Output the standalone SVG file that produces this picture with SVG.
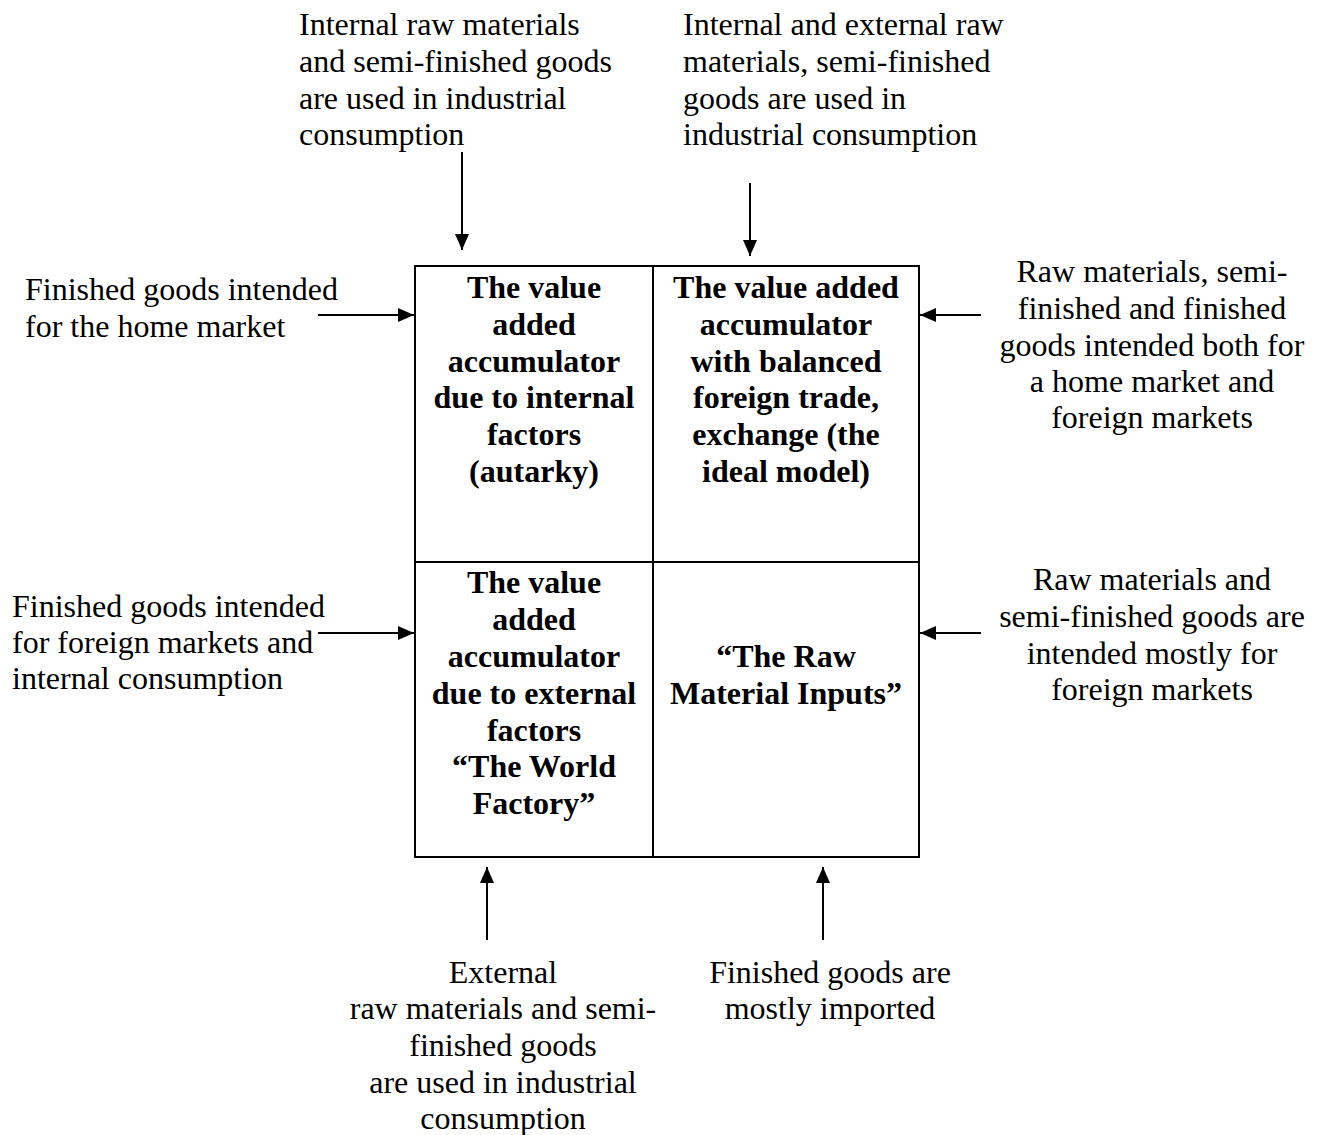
<svg xmlns="http://www.w3.org/2000/svg" width="1321" height="1135" viewBox="0 0 1321 1135">
<style>
text{font-family:"Liberation Serif","Times New Roman",serif;font-size:32px;fill:#000}
.b{font-weight:bold;text-anchor:middle}
.c{text-anchor:middle}
.box{fill:none;stroke:#000;stroke-width:2}
</style>
<defs>
<marker id="ah2" viewBox="0 0 16 14" refX="16" refY="7" markerWidth="16" markerHeight="14" markerUnits="userSpaceOnUse" orient="auto">
<path d="M0,0 L16,7 L0,14 z" fill="#000"/>
</marker>
</defs>
<g id="matrix">
<rect class="box" x="415" y="266" width="504" height="591"/>
<line class="box" x1="653" y1="266" x2="653" y2="857"/>
<line class="box" x1="415" y1="562" x2="919" y2="562"/>
</g>
<g id="cell-tl">
<text class="b" x="534" y="298">The value</text>
<text class="b" x="534" y="335">added</text>
<text class="b" x="534" y="372">accumulator</text>
<text class="b" x="534" y="408">due to internal</text>
<text class="b" x="534" y="445">factors</text>
<text class="b" x="534" y="482">(autarky)</text>
</g>
<g id="cell-tr">
<text class="b" x="786" y="298">The value added</text>
<text class="b" x="786" y="335">accumulator</text>
<text class="b" x="786" y="372">with balanced</text>
<text class="b" x="786" y="408">foreign trade,</text>
<text class="b" x="786" y="445">exchange (the</text>
<text class="b" x="786" y="482">ideal model)</text>
</g>
<g id="cell-bl">
<text class="b" x="534" y="593">The value</text>
<text class="b" x="534" y="630">added</text>
<text class="b" x="534" y="667">accumulator</text>
<text class="b" x="534" y="704">due to external</text>
<text class="b" x="534" y="741">factors</text>
<text class="b" x="534" y="777">“The World</text>
<text class="b" x="534" y="814">Factory”</text>
</g>
<g id="cell-br">
<text class="b" x="786" y="667">“The Raw</text>
<text class="b" x="786" y="704">Material Inputs”</text>
</g>
<g id="label-top-left">
<text x="299" y="35">Internal raw materials</text>
<text x="299" y="72">and semi-finished goods</text>
<text x="299" y="109">are used in industrial</text>
<text x="299" y="145">consumption</text>
</g>
<g id="label-top-right">
<text x="683" y="35">Internal and external raw</text>
<text x="683" y="72">materials, semi-finished</text>
<text x="683" y="109">goods are used in</text>
<text x="683" y="145">industrial consumption</text>
</g>
<g id="label-left-top">
<text x="25" y="300">Finished goods intended</text>
<text x="25" y="337">for the home market</text>
</g>
<g id="label-left-bottom">
<text x="12" y="617">Finished goods intended</text>
<text x="12" y="653">for foreign markets and</text>
<text x="12" y="689">internal consumption</text>
</g>
<g id="label-right-top">
<text class="c" x="1152" y="282">Raw materials, semi-</text>
<text class="c" x="1152" y="319">finished and finished</text>
<text class="c" x="1152" y="356">goods intended both for</text>
<text class="c" x="1152" y="392">a home market and</text>
<text class="c" x="1152" y="428">foreign markets</text>
</g>
<g id="label-right-bottom">
<text class="c" x="1152" y="590">Raw materials and</text>
<text class="c" x="1152" y="627">semi-finished goods are</text>
<text class="c" x="1152" y="664">intended mostly for</text>
<text class="c" x="1152" y="700">foreign markets</text>
</g>
<g id="label-bottom-left">
<text class="c" x="503" y="983">External</text>
<text class="c" x="503" y="1019">raw materials and semi-</text>
<text class="c" x="503" y="1056">finished goods</text>
<text class="c" x="503" y="1093">are used in industrial</text>
<text class="c" x="503" y="1129">consumption</text>
</g>
<g id="label-bottom-right">
<text class="c" x="830" y="983">Finished goods are</text>
<text class="c" x="830" y="1019">mostly imported</text>
</g>
<g id="connectors" stroke="#000" stroke-width="2">
<line x1="462" y1="152" x2="462" y2="250" marker-end="url(#ah2)"/>
<line x1="750" y1="183" x2="750" y2="256" marker-end="url(#ah2)"/>
<line x1="318" y1="315" x2="414" y2="315" marker-end="url(#ah2)"/>
<line x1="318" y1="633" x2="414" y2="633" marker-end="url(#ah2)"/>
<line x1="981" y1="315" x2="920" y2="315" marker-end="url(#ah2)"/>
<line x1="981" y1="633" x2="920" y2="633" marker-end="url(#ah2)"/>
<line x1="487" y1="940" x2="487" y2="867" marker-end="url(#ah2)"/>
<line x1="823" y1="940" x2="823" y2="867" marker-end="url(#ah2)"/>
</g>
</svg>
